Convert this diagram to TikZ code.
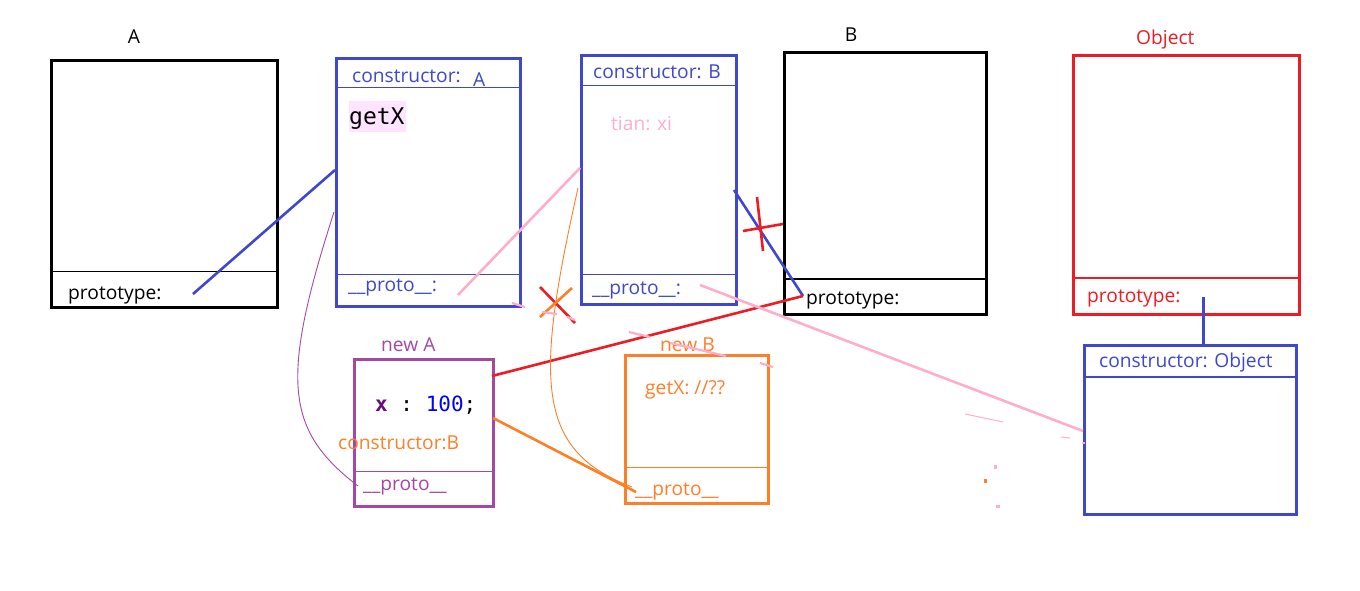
\documentclass[tikz,border=0pt]{standalone}
\usepackage{fontspec}
\setmainfont{Open Sans}
\setmonofont{DejaVu Sans Mono}
\definecolor{ind}{HTML}{3F48CC}
\definecolor{rd}{HTML}{ED1C24}
\definecolor{org}{HTML}{FF7F27}
\definecolor{rose}{HTML}{FFAEC9}
\definecolor{pur}{HTML}{A349A4}
\definecolor{getbg}{HTML}{FFE4FF}
\definecolor{kw}{HTML}{660E7A}
\definecolor{num}{HTML}{0000FF}
\begin{document}
\begin{tikzpicture}[x=1pt,y=-1pt,
  box/.style={draw, line width=2.8pt, inner sep=0pt, anchor=north west},
  sep/.style={line width=1pt},
  lbl/.style={inner sep=0pt, anchor=base west, font=\fontsize{19.2}{21}\selectfont},
  conn/.style={line width=2.6pt},
  thinconn/.style={line width=0.9pt},
  frag/.style={rose, line width=2.2pt}]
\useasboundingbox[fill=white] (0,0) rectangle (1360,591);

% ---------- boxes ----------
\node[box, black, minimum width=226pt, minimum height=247pt] (boxA) at (50,59) {};
\node[box, ind, minimum width=184pt, minimum height=248pt] (protoA) at (335,57) {};
\node[box, ind, minimum width=155pt, minimum height=249pt] (protoB) at (580,54) {};
\node[box, black, minimum width=202pt, minimum height=262pt] (boxB) at (783,51) {};
\node[box, rd, minimum width=226pt, minimum height=259pt] (boxO) at (1072,54) {};
\node[box, ind, minimum width=212pt, minimum height=169pt] (protoO) at (1083,344) {};
\node[box, pur, minimum width=139pt, minimum height=147pt] (newA) at (353,358) {};
\node[box, org, minimum width=143pt, minimum height=148pt] (newB) at (624,354) {};

% ---------- separators ----------
\draw[sep, black] (boxA.west |- 0,271) -- (boxA.east |- 0,271);
\draw[sep, ind] (protoA.west |- 0,88) -- (protoA.east |- 0,88);
\draw[sep, ind] (protoA.west |- 0,274) -- (protoA.east |- 0,274);
\draw[sep, ind] (protoB.west |- 0,86) -- (protoB.east |- 0,86);
\draw[sep, ind] (protoB.west |- 0,274) -- (protoB.east |- 0,274);
\draw[line width=2.8pt, black] (boxB.west |- 0,279) -- (boxB.east |- 0,279);
\draw[line width=2.8pt, rd] (boxO.west |- 0,278) -- (boxO.east |- 0,278);
\draw[line width=2.8pt, ind] (protoO.west |- 0,377) -- (protoO.east |- 0,377);
\draw[sep, pur] (newA.west |- 0,471) -- (newA.east |- 0,471);
\draw[sep, org] (newB.west |- 0,467) -- (newB.east |- 0,467);

% ---------- texts ----------
\node[lbl, anchor=base] (tA) at (134,44) {A};
\node[lbl] (tAproto) at (68,299) {prototype:};

\node[lbl, ind] (tconA) at (352,83) {constructor:};
\node[lbl, ind] (tconA2) at (473,87) {A};
\node[fill=getbg, inner sep=0pt, minimum width=57pt, minimum height=31pt, anchor=north west] (getbgnode) at (349,101) {};
\node[inner sep=0pt, anchor=base west, font=\ttfamily\fontsize{23}{24}\selectfont] (tgetX) at (349,125) {getX};
\node[lbl, ind] (tprotoA) at (348,291) {\_\_proto\_\_:};

\node[lbl, ind] (tconB) at (593,79) {constructor: B};
\node[lbl, rose] (ttian) at (611,131) {tian: xi};
\node[lbl, ind] (tprotoB) at (592,294) {\_\_proto\_\_:};

\node[lbl, anchor=base] (tB) at (851,42) {B};
\node[lbl] (tBproto) at (806,304) {prototype:};

\node[lbl, rd] (tObj) at (1136,45) {Object};
\node[lbl, rd] (tOproto) at (1087,302) {prototype:};
\node[lbl, ind] (tconO) at (1099,367) {constructor: Object};

\node[lbl, pur] (tnewA) at (381,351) {new A};
\node[inner sep=0pt, anchor=base west, font=\ttfamily\fontsize{21}{22}\selectfont] (tx) at (375,411) {{\bfseries\color{kw}x}\ :\ {\color{num}100};};
\node[lbl, org] (tconBB) at (338,449) {constructor:B};
\node[lbl, pur] (tprotoNA) at (363,490) {\_\_proto\_\_};

\node[lbl, org] (tnewB) at (660,351) {new B};
\node[lbl, org] (tgetB) at (645,394) {getX: //??};
\node[lbl, org] (tprotoNB) at (635,495) {\_\_proto\_\_};

% ---------- connector end points ----------
\coordinate (aProtoEnd) at (193,294);
\coordinate (protoAleft) at (335,170);
\coordinate (protoAin) at (458,295);
\coordinate (protoBleft) at (580,168);
\coordinate (protoBtop) at (578,188);
\coordinate (protoBright) at (734,190);
\coordinate (bProto) at (803,296);
\coordinate (newAright) at (492,376);
\coordinate (newAx) at (493,418);
\coordinate (newBproto) at (636,492);
\coordinate (newBproto2) at (632,487);
\coordinate (protoBin) at (700,285);
\coordinate (protoOleft) at (1083,431);
\coordinate (protoAleft2) at (334,212);
\coordinate (newAproto) at (358,486);
\coordinate (oProto) at (1203,297);

% ---------- connectors ----------
\draw[conn, ind] (aProtoEnd) -- (protoAleft);
\draw[conn, rose] (protoAin) -- (protoBleft);
\draw[conn, ind] (protoBright) -- (bProto);
\draw[conn, rd] (newAright) -- (bProto);
\draw[conn, rose] (protoBin) -- (protoOleft);
\draw[conn, org] (newAx) -- (newBproto);
\draw[thinconn, org] (protoBtop) .. controls (535,380) and (535,450) .. (newBproto2);
\draw[thinconn, pur] (protoAleft2) .. controls (280,380) and (285,430) .. (newAproto);
\draw[line width=3pt, ind] (oProto) -- (protoO.north -| oProto);

% ---------- crosses ----------
\draw[conn, rd] (743,231) -- (783,224);
\draw[conn, rd] (757,197) -- (763,251);
\draw[conn, rd] (540,287) -- (575,323);
\draw[conn, org] (540,317) -- (572,288);

% ---------- faded fragments ----------
\draw[frag] (512,303) -- (525,307);
\draw[frag] (542,312) -- (557,314);
\draw[frag] (567,317) -- (575,320);
\draw[frag] (629,332) -- (650,337);
\draw[frag] (670,343) -- (726,356);
\draw[frag] (760,363) -- (773,367);
\draw[frag, line width=1pt] (965,414) -- (1003,422);
\draw[frag, line width=1pt] (1061,437) -- (1070,438);
\draw[frag] (1082,443) -- (1085,443);
\fill[rose] (994,465) rectangle (997,469);
\fill[org] (984,479) rectangle (987,483);
\fill[rose] (996,505) rectangle (1000,508);
\end{tikzpicture}
\end{document}
